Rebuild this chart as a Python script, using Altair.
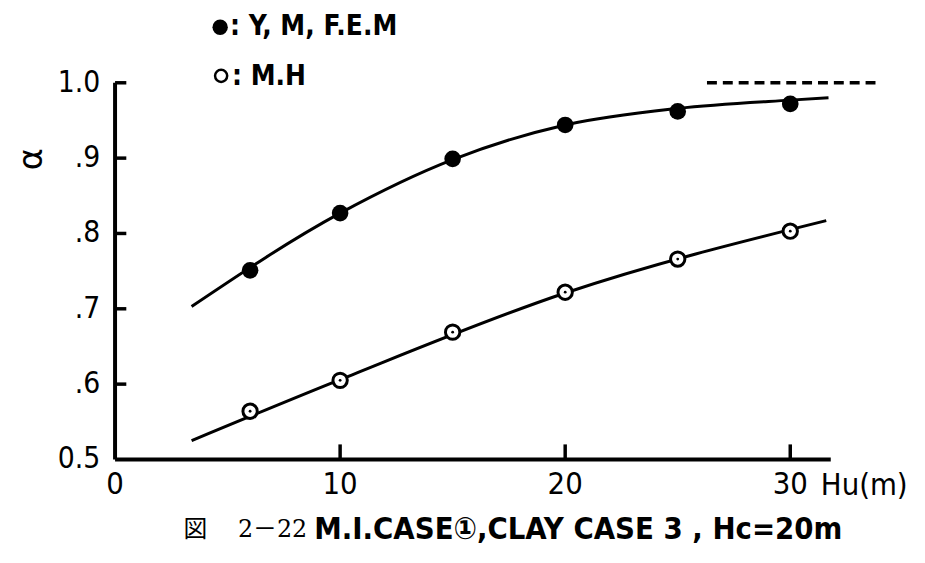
import altair as alt
import pandas as pd

# Measured points
hu_pts = [6, 10, 15, 20, 25, 30]
yfem_vals = [0.751, 0.827, 0.899, 0.944, 0.962, 0.972]
mh_vals = [0.564, 0.605, 0.669, 0.722, 0.766, 0.803]

# Fitted curves
yfem_curve_x = [3.4, 10, 15, 20, 25, 30, 31.7]
yfem_curve_y = [0.703, 0.827, 0.898, 0.944, 0.966, 0.977, 0.980]
mh_curve_x = [3.4, 10, 20, 31.6]
mh_curve_y = [0.525, 0.606, 0.721, 0.817]

# Dashed limit line
limit_x = [26.3, 34.0]
limit_y = [1.0, 1.0]

# Axes
x_min, x_max = 0, 31.8
y_min, y_max = 0.5, 1.0
x_label_vals = [0, 10, 20, 30]
x_labels = ["0", "10", "20", "30"]
x_ticks = [10, 20, 30]
y_label_vals = [0.5, 0.6, 0.7, 0.8, 0.9, 1.0]
y_labels = ["0.5", ".6", ".7", ".8", ".9", "1.0"]
y_ticks = [0.6, 0.7, 0.8, 0.9, 1.0]
x_title = "Hu(m)"
y_title = "α"
legend_labels = [": Y, M, F.E.M", ":  M.H"]
caption_parts = ["図", "2－22", "M.I.CASE①,CLAY CASE 3 , Hc=20m"]

W, H = 722, 380
FONT = "DejaVu Sans Condensed, DejaVu Sans, sans-serif"
INK = "#000000"
Y_TICK_LEN = 0.5    # in x units (~11 px)
X_TICK_LEN = 0.02   # in y units (~15 px)

xs = alt.Scale(domain=[x_min, x_max], nice=False, zero=False)
ys = alt.Scale(domain=[y_min, y_max], nice=False, zero=False)
X = lambda f: alt.X(f, scale=xs, axis=None)
Y = lambda f: alt.Y(f, scale=ys, axis=None)

pts = pd.DataFrame({"x": hu_pts, "a": yfem_vals, "b": mh_vals})
c1 = pd.DataFrame({"x": yfem_curve_x, "y": yfem_curve_y})
c2 = pd.DataFrame({"x": mh_curve_x, "y": mh_curve_y})

# axis lines
xdom = alt.Chart(pd.DataFrame({"x": [x_min], "x2": [x_max], "y": [y_min]})).mark_rule(
    color=INK, strokeWidth=4, clip=False).encode(x=X("x:Q"), x2="x2:Q", y=Y("y:Q"))
ydom = alt.Chart(pd.DataFrame({"x": [x_min], "y": [y_min], "y2": [y_max]})).mark_rule(
    color=INK, strokeWidth=4, clip=False).encode(x=X("x:Q"), y=Y("y:Q"), y2="y2:Q")

# inward ticks
yt_df = pd.DataFrame({"y": y_ticks, "x0": [x_min] * len(y_ticks), "x1": [x_min + Y_TICK_LEN] * len(y_ticks)})
yt = alt.Chart(yt_df).mark_rule(color=INK, strokeWidth=3.5, clip=False).encode(
    y=Y("y:Q"), x=X("x0:Q"), x2="x1:Q")
xt_df = pd.DataFrame({"x": x_ticks, "y0": [y_min] * len(x_ticks), "y1": [y_min + X_TICK_LEN] * len(x_ticks)})
xt = alt.Chart(xt_df).mark_rule(color=INK, strokeWidth=3.5, clip=False).encode(
    x=X("x:Q"), y=Y("y0:Q"), y2="y1:Q")

xl = alt.Chart(pd.DataFrame({"x": x_label_vals, "t": x_labels})).mark_text(
    align="center", baseline="middle", fontSize=31, font=FONT, color=INK).encode(
    x=X("x:Q"), y=alt.value(H + 26), text="t:N")
yl = alt.Chart(pd.DataFrame({"y": y_label_vals, "t": y_labels})).mark_text(
    align="right", baseline="middle", fontSize=30, font=FONT, color=INK).encode(
    y=Y("y:Q"), x=alt.value(-15), text="t:N")
ytitle = alt.Chart(pd.DataFrame({"t": [y_title]})).mark_text(
    angle=270, align="center", baseline="middle", fontSize=34, font="DejaVu Sans", color=INK).encode(
    x=alt.value(-84), y=alt.value(77), text="t:N")
hu_lbl = alt.Chart(pd.DataFrame({"t": [x_title]})).mark_text(
    align="left", baseline="middle", fontSize=31, font=FONT, color=INK).encode(
    text="t:N", x=alt.value(712), y=alt.value(407))

line1 = alt.Chart(c1).mark_line(color=INK, strokeWidth=3, interpolate="monotone").encode(x=X("x:Q"), y=Y("y:Q"))
line2 = alt.Chart(c2).mark_line(color=INK, strokeWidth=3, interpolate="monotone").encode(x=X("x:Q"), y=Y("y:Q"))

filled = alt.Chart(pts).mark_point(shape="circle", filled=True, color=INK, size=280, opacity=1).encode(
    x=X("x:Q"), y=Y("a:Q"))
opn = alt.Chart(pts).mark_point(shape="circle", filled=True, fill="white", stroke=INK,
                                strokeWidth=3, size=210, opacity=1).encode(x=X("x:Q"), y=Y("b:Q"))
dots = alt.Chart(pts).mark_point(shape="circle", filled=True, color=INK, size=8, opacity=1).encode(
    x=X("x:Q"), y=Y("b:Q"))

lim = alt.Chart(pd.DataFrame({"x": limit_x, "y": limit_y})).mark_line(
    color=INK, strokeWidth=3.5, strokeDash=[10, 6], clip=False).encode(x=X("x:Q"), y=Y("y:Q"))

# Legend
leg_sym1 = alt.Chart(pd.DataFrame({"k": [0]})).mark_point(shape="circle", filled=True, color=INK,
                                                          size=240, opacity=1).encode(
    x=alt.value(106), y=alt.value(-56))
leg_sym2 = alt.Chart(pd.DataFrame({"k": [0]})).mark_point(shape="circle", filled=False, color=INK,
                                                          strokeWidth=2.5, size=150, opacity=1).encode(
    x=alt.value(107), y=alt.value(-7))
leg_t1 = alt.Chart(pd.DataFrame({"t": [legend_labels[0]]})).mark_text(
    align="left", baseline="middle", fontSize=28, font=FONT, fontWeight="bold", color=INK).encode(
    text="t:N", x=alt.value(116), y=alt.value(-56))
leg_t2 = alt.Chart(pd.DataFrame({"t": [legend_labels[1]]})).mark_text(
    align="left", baseline="middle", fontSize=28, font=FONT, fontWeight="bold", color=INK).encode(
    text="t:N", x=alt.value(118), y=alt.value(-6))

cap1 = alt.Chart(pd.DataFrame({"t": [caption_parts[0]]})).mark_text(
    align="left", baseline="middle", fontSize=24, font="Noto Sans CJK JP", color=INK).encode(
    text="t:N", x=alt.value(69), y=alt.value(451))
cap2 = alt.Chart(pd.DataFrame({"t": [caption_parts[1]]})).mark_text(
    align="left", baseline="middle", fontSize=24, font="DejaVu Serif, Noto Sans CJK JP", color=INK).encode(
    text="t:N", x=alt.value(124), y=alt.value(451))
cap3 = alt.Chart(pd.DataFrame({"t": [caption_parts[2]]})).mark_text(
    align="left", baseline="middle", fontSize=31, font=FONT + ", Noto Sans CJK JP", fontWeight="bold",
    color=INK).encode(
    text="t:N", x=alt.value(201), y=alt.value(451))

# axis marks layered last so nothing can cover them
chart = alt.layer(xl, yl, ytitle, hu_lbl, line1, line2, lim, filled, opn, dots,
                  leg_sym1, leg_sym2, leg_t1, leg_t2, cap1, cap2, cap3,
                  xdom, ydom, yt, xt).properties(
    width=W, height=H,
    background="white",
    autosize=alt.AutoSizeParams(type="none"),
    padding={"left": 108, "top": 73, "right": 87, "bottom": 102},
).configure_view(strokeWidth=0, stroke="transparent")

chart.save("out.html", embed_options={"renderer": "svg", "actions": False})
